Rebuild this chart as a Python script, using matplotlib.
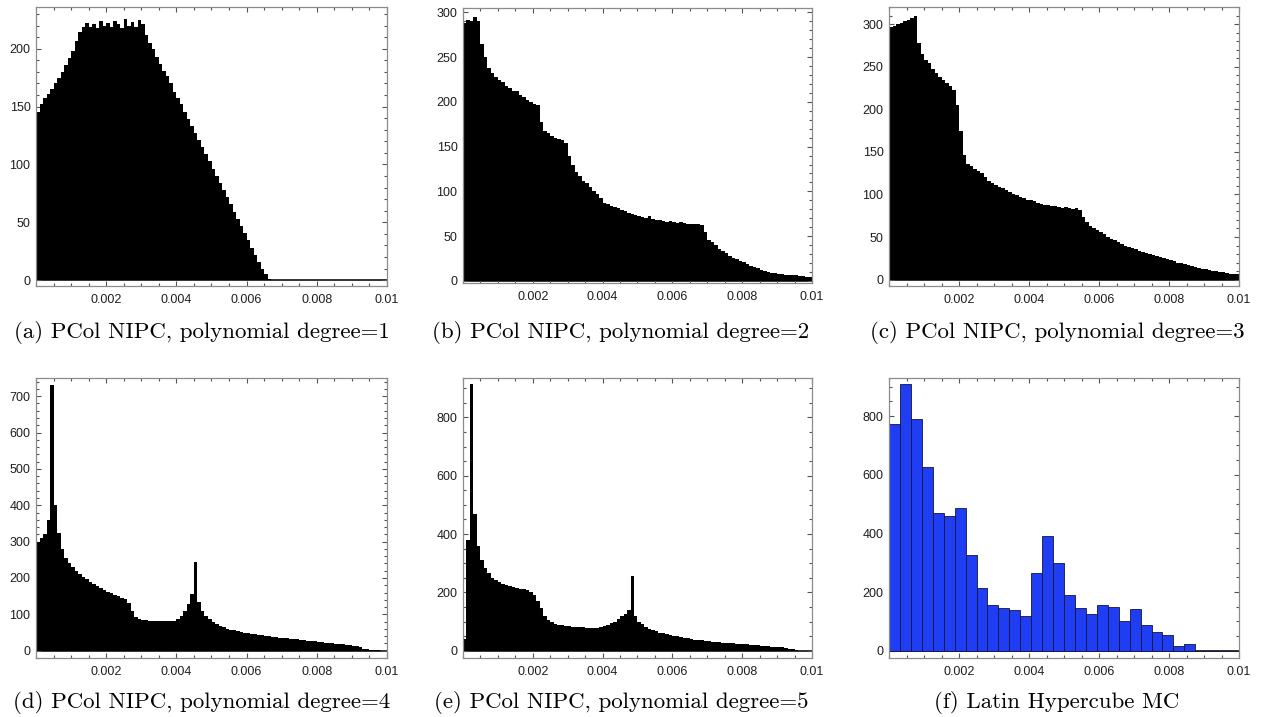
import matplotlib
matplotlib.use("Agg")
import matplotlib.pyplot as plt
import numpy as np
from matplotlib.ticker import FixedLocator, MultipleLocator, NullFormatter

# bin counts, 100 bins of width 1e-4 on [0, 0.01]
deg1 = [145, 152, 157, 161, 165, 170, 175, 180, 186, 192,
        198, 207, 214, 219, 222, 219, 221, 218, 224, 220,
        222, 219, 224, 221, 218, 226, 220, 223, 219, 225,
        221, 212, 205, 200, 193, 187, 181, 176, 170, 163,
        157, 152, 145, 139, 133, 127, 121, 115, 109, 103,
        96, 90, 84, 78, 72, 66, 59, 53, 47, 41,
        35, 28, 22, 16, 10, 5, 1, 0, 0, 0,
        0, 0, 0, 0, 0, 0, 0, 0, 0, 0,
        0, 0, 0, 0, 0, 0, 0, 0, 0, 0,
        0, 0, 0, 0, 0, 0, 0, 0, 0, 0]

deg2 = [288, 292, 290, 295, 291, 265, 250, 238, 232, 228,
        224, 222, 218, 215, 212, 212, 208, 205, 202, 200,
        198, 196, 178, 168, 165, 162, 160, 158, 157, 154,
        140, 130, 122, 117, 112, 109, 105, 100, 97, 92,
        87, 86, 84, 83, 81, 79, 78, 76, 75, 73,
        72, 71, 70, 72, 69, 68, 68, 67, 66, 67,
        66, 65, 66, 65, 64, 64, 63, 63, 62, 55,
        46, 43, 40, 36, 33, 31, 28, 26, 24, 22,
        21, 19, 17, 15, 14, 12, 11, 10, 9, 9,
        8, 8, 7, 7, 6, 6, 5, 5, 4, 4]

deg3 = [296, 298, 300, 301, 303, 305, 307, 310, 278, 265,
        258, 254, 247, 243, 238, 234, 231, 227, 222, 205,
        175, 146, 136, 133, 130, 128, 125, 120, 116, 113,
        111, 109, 107, 105, 103, 101, 99, 97, 96, 94,
        93, 92, 90, 89, 88, 87, 86, 86, 85, 84,
        85, 84, 83, 84, 82, 74, 68, 63, 60, 58,
        56, 53, 50, 48, 46, 44, 42, 40, 38, 37,
        36, 34, 32, 31, 30, 29, 28, 26, 25, 24,
        23, 22, 20, 19, 18, 17, 16, 15, 14, 13,
        12, 11, 10, 10, 9, 9, 8, 7, 7, 6]

deg4 = [300, 310, 322, 360, 730, 400, 325, 280, 255, 240,
        230, 220, 211, 203, 196, 189, 183, 178, 173, 168,
        162, 158, 154, 150, 146, 141, 131, 108, 92, 87,
        85, 84, 83, 82, 82, 81, 81, 82, 82, 83,
        86, 95, 110, 128, 155, 245, 135, 108, 95, 86,
        78, 73, 69, 65, 61, 58, 56, 54, 52, 50,
        48, 47, 45, 44, 42, 41, 40, 38, 37, 36,
        35, 34, 33, 32, 31, 30, 29, 28, 27, 26,
        24, 23, 22, 21, 20, 19, 18, 18, 17, 16,
        14, 12, 9, 6, 4, 3, 2, 1, 0, 0]

deg5 = [40, 380, 915, 470, 360, 310, 285, 265, 250, 242,
        236, 230, 225, 222, 219, 215, 213, 211, 208, 200,
        190, 172, 145, 120, 105, 97, 92, 89, 87, 85,
        83, 82, 81, 80, 80, 79, 79, 78, 78, 80,
        84, 89, 95, 100, 108, 118, 126, 140, 255, 120,
        100, 90, 82, 76, 71, 66, 62, 59, 56, 53,
        51, 49, 47, 45, 43, 40, 38, 37, 35, 34,
        32, 31, 30, 29, 28, 26, 26, 25, 24, 23,
        23, 22, 21, 20, 19, 17, 16, 15, 14, 13,
        12, 11, 9, 7, 5, 3, 0, 0, 0, 0]

# Latin hypercube sample counts, 32 bins on [0, 0.01]
lhs = [774, 908, 791, 628, 470, 461, 486, 325, 213, 156,
       147, 140, 119, 264, 390, 298, 189, 147, 125, 156,
       148, 102, 141, 86, 63, 55, 17, 24, 0, 0, 0, 0]

xtick_vals = [0.002, 0.004, 0.006, 0.008, 0.01]
xtick_labels = ["0.002", "0.004", "0.006", "0.008", "0.01"]

captions = ["(a) PCol NIPC, polynomial degree=1",
            "(b) PCol NIPC, polynomial degree=2",
            "(c) PCol NIPC, polynomial degree=3",
            "(d) PCol NIPC, polynomial degree=4",
            "(e) PCol NIPC, polynomial degree=5",
            "(f) Latin Hypercube MC"]

W, H = 1261, 717
FRAME = "#8c8c8c"


def px_axes(fig, left, top, right, bottom):
    return fig.add_axes([left / W, 1 - bottom / H, (right - left) / W, (bottom - top) / H])


def style(ax, ylim, ymajor, yminor):
    ax.set_xlim(0, 0.01)
    ax.set_ylim(*ylim)
    ax.xaxis.set_major_locator(FixedLocator(xtick_vals))
    ax.set_xticklabels(xtick_labels)
    ax.xaxis.set_minor_locator(MultipleLocator(0.0005))
    ax.yaxis.set_major_locator(MultipleLocator(ymajor))
    ax.yaxis.set_minor_locator(MultipleLocator(yminor))
    ax.yaxis.set_minor_formatter(NullFormatter())
    ax.tick_params(which="both", direction="in", top=True, right=True,
                   color="#555555", width=0.8)
    ax.tick_params(which="major", length=3.5, labelsize=9, labelcolor="#1e1e1e")
    ax.tick_params(which="minor", length=2)
    ax.tick_params(axis="x", pad=6)
    ax.tick_params(axis="y", pad=4)
    for lab in ax.get_xticklabels() + ax.get_yticklabels():
        lab.set_fontfamily("Liberation Sans")
    for sp in ax.spines.values():
        sp.set_color(FRAME)
        sp.set_linewidth(0.9)
    ax.axhline(0, color="#333333", lw=1.4, zorder=1)


fig = plt.figure(figsize=(W / 100, H / 100), dpi=100)

edges100 = np.linspace(0, 0.01, 101)
panels = [
    (deg1, (36, 7, 387, 286), (-5, 236), 50, 10),
    (deg2, (463, 8, 812, 283), (-2.5, 305), 50, 10),
    (deg3, (889, 7, 1239, 286), (-7.5, 320), 50, 10),
    (deg4, (36, 378, 387, 658), (-20, 750), 100, 20),
    (deg5, (463, 378, 812, 658), (-25, 935), 200, 50),
]
for counts, box, ylim, ymaj, ymin in panels:
    ax = px_axes(fig, *box)
    ax.stairs(counts, edges100, fill=True, color="black", zorder=2)
    style(ax, ylim, ymaj, ymin)

ax = px_axes(fig, 889, 378, 1239, 658)
edges32 = np.linspace(0, 0.01, len(lhs) + 1)
ax.bar(edges32[:-1], lhs, width=np.diff(edges32), align="edge",
       color="#1f3df2", edgecolor="#14143c", linewidth=0.6, zorder=2)
style(ax, (-25, 930), 200, 50)

cap_x = [202, 621, 1057]
cap_y = [332, 703]
for i, text in enumerate(captions):
    fig.text(cap_x[i % 3] / W, 1 - cap_y[i // 3] / H, text,
             family="cmr10", fontsize=16.5, ha="center", va="center")

fig.savefig("out.png", dpi=100)
